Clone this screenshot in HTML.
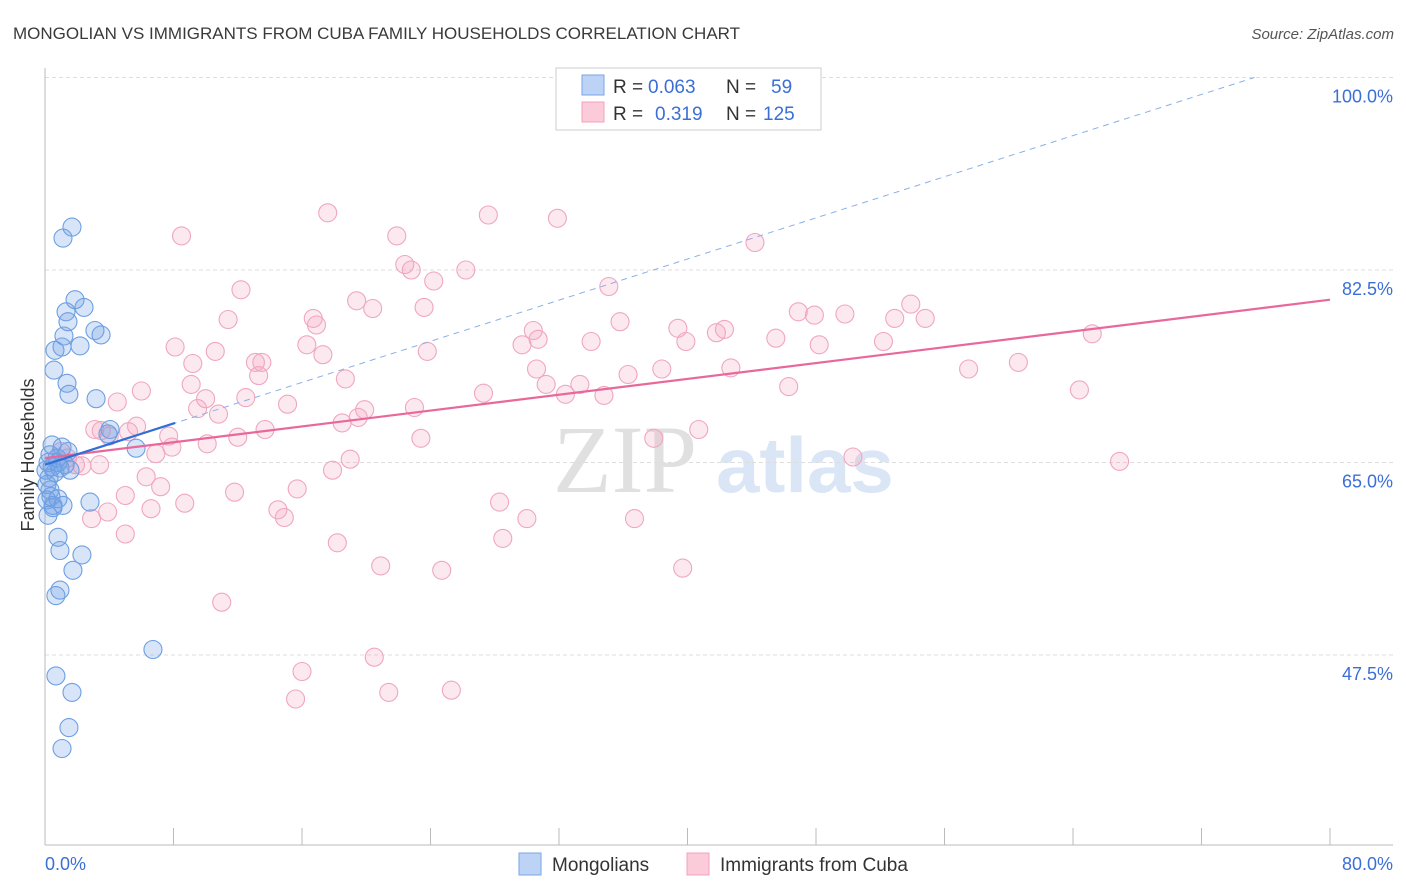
<!DOCTYPE html>
<html><head><meta charset="utf-8">
<style>
body{margin:0;background:#fff;width:1406px;height:892px;overflow:hidden;font-family:"Liberation Sans",sans-serif;}
svg{display:block}
</style></head>
<body>
<svg id="chart" width="1406" height="892" xmlns="http://www.w3.org/2000/svg">
<text x="13" y="39" font-size="17" fill="#3a3a3a">MONGOLIAN VS IMMIGRANTS FROM CUBA FAMILY HOUSEHOLDS CORRELATION CHART</text>
<text x="1394" y="39" font-size="15" fill="#555" text-anchor="end" font-style="italic">Source: ZipAtlas.com</text>
<g>
<text x="553" y="492" font-size="96" fill="#e0e0e0" font-family="Liberation Serif,serif">ZIP</text>
<text x="716" y="492" font-size="78" fill="#dae6f6" font-weight="bold">atlas</text>
</g>
<g id="grid"></g>
<line x1="45" y1="68" x2="45" y2="845" stroke="#bbb" stroke-width="1"/>
<line x1="45" y1="845" x2="1393" y2="845" stroke="#bbb" stroke-width="1"/>
<g id="xticks"></g>
<text transform="translate(34,455) rotate(-90)" font-size="18" fill="#333" text-anchor="middle">Family Households</text>
<text x="45" y="870" font-size="18" fill="#3b6fd6">0.0%</text>
<text x="1393" y="870" font-size="18" fill="#3b6fd6" text-anchor="end">80.0%</text>
<g id="pts"></g>
<g id="trends"></g>
<g>
<rect x="556" y="68" width="265" height="62" fill="#fff" stroke="#ccc"/>
<rect x="582" y="75" width="22" height="20" fill="#bcd3f5" stroke="#7aa6e6"/>
<text x="613" y="93" font-size="19" fill="#333">R = <tspan fill="#3b6fd6" x="648">0.063</tspan><tspan x="726">N =</tspan><tspan fill="#3b6fd6" x="771">59</tspan></text>
<rect x="582" y="102" width="22" height="20" fill="#fbcbda" stroke="#f0a0bc"/>
<text x="613" y="120" font-size="19" fill="#333">R = <tspan fill="#3b6fd6" x="655">0.319</tspan><tspan x="726">N =</tspan><tspan fill="#3b6fd6" x="763">125</tspan></text>
</g>
<g>
<rect x="519" y="853" width="22" height="22" fill="#bcd3f5" stroke="#7aa6e6"/>
<text x="552" y="871" font-size="19" fill="#333">Mongolians</text>
<rect x="687" y="853" width="22" height="22" fill="#fbcbda" stroke="#f0a0bc"/>
<text x="720" y="871" font-size="19" fill="#333">Immigrants from Cuba</text>
</g>
</svg>
<script>
const yTicks=[47.5,65.0,82.5,100.0];
const blueX=[1.68,1.12,1.87,2.43,1.31,1.43,1.18,3.11,3.49,0.62,1.06,2.18,0.56,1.37,1.49,3.18,4.05,3.92,5.67,0.44,1.06,1.43,0.31,0.75,0.19,0.44,0.93,1.56,0.25,0.12,0.37,0.81,1.12,2.80,0.50,0.19,0.81,0.93,2.30,1.74,0.93,0.68,6.72,0.68,1.68,1.49,1.06,0.12,0.62,1.25,0.31,0.81,0.06,0.50];
const blueY=[86.4,85.4,79.8,79.1,78.7,77.8,76.5,77.0,76.6,75.2,75.5,75.6,73.4,72.2,71.2,70.8,68.0,67.6,66.3,66.6,66.4,66.0,65.7,65.4,65.0,64.6,64.5,64.3,63.6,63.0,61.9,61.7,61.1,61.4,60.9,60.2,58.2,57.0,56.6,55.2,53.4,52.9,48.0,45.6,44.1,40.9,39.0,61.6,64.1,64.8,62.5,65.0,64.3,61.1];
const pinkX=[17.6,27.6,31.9,8.5,21.9,44.2,22.4,22.8,26.2,24.2,12.2,35.1,19.4,20.4,23.6,46.9,11.4,16.7,16.9,35.8,39.4,47.9,49.8,52.9,53.9,54.8,30.4,30.7,29.7,34.0,39.9,41.8,42.3,45.5,48.2,52.2,65.2,8.1,10.6,16.3,17.3,23.8,9.2,13.1,13.5,13.3,18.7,30.6,36.3,38.4,42.7,57.5,60.6,9.1,6.0,31.2,33.3,46.3,64.4,27.3,4.5,10.0,12.5,15.1,19.9,34.8,32.4,9.5,10.8,23.0,19.5,18.5,3.5,5.7,5.2,4.0,13.7,7.7,12.0,10.1,7.9,6.9,23.4,37.9,40.7,1.0,1.4,2.3,19.0,17.9,50.3,66.9,6.3,7.2,5.0,11.8,15.7,8.7,6.6,3.9,14.5,14.9,2.9,5.0,28.3,30.0,36.7,18.2,28.5,20.9,24.7,39.7,11.0,20.5,16.0,15.6,21.4,25.3,3.4,1.9,3.1];
const pinkY=[87.7,87.5,87.2,85.6,85.6,85.0,83.0,82.5,82.5,81.5,80.7,81.0,79.7,79.0,79.1,78.7,78.0,78.1,77.5,77.8,77.2,78.4,78.5,78.1,79.4,78.1,77.0,76.2,75.7,76.0,76.0,76.8,77.1,76.3,75.7,76.0,76.7,75.5,75.1,75.7,74.8,75.1,74.0,74.1,74.1,72.9,72.6,73.5,73.0,73.5,73.6,73.5,74.1,72.1,71.5,72.1,72.1,71.9,71.6,71.3,70.5,70.8,70.9,70.3,69.8,71.1,71.2,69.9,69.4,70.0,69.1,68.6,67.9,68.3,67.8,67.4,68.0,67.4,67.3,66.7,66.4,65.8,67.2,67.2,68.0,66.0,65.4,64.7,65.3,64.3,65.5,65.1,63.7,62.8,62.0,62.3,62.6,61.3,60.8,60.5,60.7,60.0,59.9,58.5,61.4,59.9,59.9,57.7,58.1,55.6,55.2,55.4,52.3,47.3,46.0,43.5,44.1,44.3,64.8,64.8,68.0];
const blueTrend=[0,64.8,8.1,68.6];
const blueDash=[0,64.8,75.3,100];
const pinkTrend=[0,65.4,80,79.8];
const NS='http://www.w3.org/2000/svg';
const xs=v=>45+v*1285/80;
const ys=v=>77.5+(100-v)*11;
function mk(tag,attrs,parent){const e=document.createElementNS(NS,tag);for(const k in attrs)e.setAttribute(k,attrs[k]);parent.appendChild(e);return e;}
const grid=document.getElementById('grid');
yTicks.forEach(t=>{
  const l=mk('line',{x1:45,x2:1393,y1:ys(t),y2:ys(t),stroke:'#ddd','stroke-dasharray':'4,3'},grid);
  
  
  const tx=mk('text',{x:1393,y:ys(t)+25,'font-size':18,fill:'#3b6fd6','text-anchor':'end'},grid);
  tx.textContent=t.toFixed(1)+'%';
  
  
});
const xt=document.getElementById('xticks');
for(let i=0;i<=10;i++){
  const l=mk('line',{x1:xs(i*8),x2:xs(i*8),y1:828,y2:845,stroke:'#bbb'},xt);
  
  
}
const pts=document.getElementById('pts');
pinkX.forEach((x,i)=>{
  const c=mk('circle',{cx:xs(x),cy:ys(pinkY[i]),r:9,fill:'rgba(244,165,192,0.25)',stroke:'#f0a6c0','stroke-width':1.1},pts);
  
  
});
blueX.forEach((x,i)=>{
  const c=mk('circle',{cx:xs(x),cy:ys(blueY[i]),r:9,fill:'rgba(110,160,230,0.27)',stroke:'#6d9fe2','stroke-width':1.1},pts);
  
  
});
const tr=document.getElementById('trends');
const d=mk('line',{x1:xs(blueDash[0]),y1:ys(blueDash[1]),x2:xs(blueDash[2]),y2:ys(blueDash[3]),stroke:'#8ab0e8','stroke-width':1,'stroke-dasharray':'6,5'},tr);


const p=mk('line',{x1:xs(pinkTrend[0]),y1:ys(pinkTrend[1]),x2:xs(pinkTrend[2]),y2:ys(pinkTrend[3]),stroke:'#e8689a','stroke-width':2.2},tr);


const b=mk('line',{x1:xs(blueTrend[0]),y1:ys(blueTrend[1]),x2:xs(blueTrend[2]),y2:ys(blueTrend[3]),stroke:'#2f6fd6','stroke-width':2.2},tr);


</script>
</body></html>
